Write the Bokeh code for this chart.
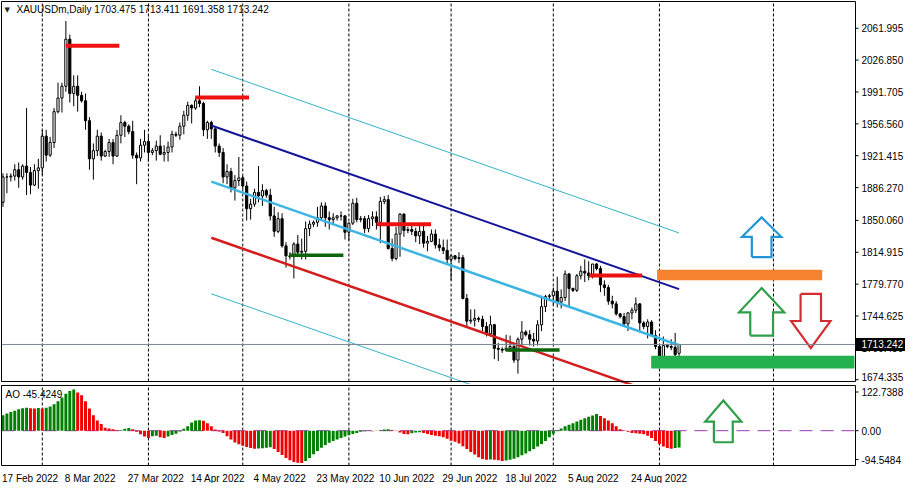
import pandas as pd
from bokeh.plotting import figure
from bokeh.layouts import column
from bokeh.models import ColumnDataSource, Range1d
from bokeh.core.properties import value
from bokeh.embed import file_html
from bokeh.resources import INLINE

FONT = value("Liberation Sans")

# ---------------- DATA ----------------
# daily bars (broker has short Sunday sessions, no Saturdays, closed on Good Friday)
all_days = pd.date_range("2022-02-17", "2022-09-07", freq="D")
bar_dates = [d for d in all_days if d.weekday() != 5 and d != pd.Timestamp("2022-04-15")]

bar_open = [
    1870, 1898,
    1898, 1899, 1906, 1898, 1910, 1903,
    1889, 1905, 1908, 1943, 1922, 1936,
    1970, 1985, 1998, 2050, 1990, 1998,
    1988, 1982, 1960, 1918, 1927, 1943,
    1921, 1926, 1936, 1921, 1944, 1958,
    1954, 1948, 1922, 1919, 1933, 1937,
    1925, 1927, 1932, 1923, 1925, 1931,
    1945, 1944, 1954, 1966, 1977,
    1974, 1982, 1979, 1950, 1958, 1951,
    1932, 1925, 1898, 1904, 1886, 1894,
    1897, 1888, 1863, 1868, 1881, 1877,
    1883, 1878, 1855, 1838, 1852, 1822,
    1811, 1810, 1824, 1815, 1816, 1841,
    1846, 1848, 1853, 1866, 1853, 1851,
    1853, 1855, 1855, 1837, 1847, 1869,
    1851, 1852, 1841, 1852, 1854, 1848,
    1871, 1873, 1819, 1808, 1835, 1857,
    1839, 1840, 1838, 1833, 1838, 1825,
    1827, 1835, 1823, 1820, 1817, 1807,
    1811, 1808, 1809, 1764, 1739, 1740,
    1742, 1741, 1733, 1725, 1735, 1709,
    1708, 1707, 1709, 1711, 1696, 1719,
    1727, 1724, 1719, 1717, 1735, 1755,
    1766, 1767, 1772, 1760, 1765, 1791,
    1775, 1773, 1789, 1794, 1792, 1789,
    1802, 1797, 1779, 1776, 1761, 1758,
    1747, 1744, 1736, 1748, 1751, 1758,
    1737, 1733, 1738, 1723, 1711, 1697,
    1712, 1711, 1710, 1703.475,
]
bar_high = [
    1902, 1902,
    1902, 1912, 1914, 1912, 1974, 1909,
    1912, 1918, 1950, 1950, 1942, 1974,
    2002, 2002, 2070, 2055, 2010, 2010,
    1992, 1990, 1964, 1935, 1950, 1947,
    1928, 1940, 1940, 1950, 1966, 1960,
    1956, 1960, 1925, 1940, 1950, 1944,
    1930, 1938, 1944, 1933, 1937, 1949,
    1948, 1958, 1971, 1981, 1978,
    1985, 1998, 1981, 1960, 1960, 1952,
    1935, 1930, 1912, 1908, 1900, 1920,
    1899, 1893, 1874, 1885, 1910, 1890,
    1885, 1885, 1865, 1859, 1858, 1826,
    1815, 1826, 1834, 1830, 1849, 1850,
    1850, 1865, 1870, 1870, 1860, 1858,
    1856, 1860, 1856, 1848, 1874, 1875,
    1855, 1855, 1856, 1860, 1860, 1876,
    1877, 1878, 1830, 1843, 1858, 1858,
    1843, 1847, 1842, 1847, 1845, 1833,
    1840, 1840, 1830, 1829, 1829, 1812,
    1812, 1815, 1812, 1769, 1752, 1752,
    1744, 1745, 1738, 1745, 1736, 1715,
    1710, 1724, 1723, 1714, 1721, 1739,
    1729, 1729, 1726, 1740, 1767, 1768,
    1769, 1776, 1788, 1774, 1795, 1792,
    1776, 1791, 1800, 1807, 1805, 1802,
    1803, 1800, 1784, 1779, 1767, 1761,
    1748, 1748, 1749, 1754, 1765, 1759,
    1739, 1741, 1740, 1729, 1712, 1722,
    1714, 1719, 1726, 1713.411,
]
bar_low = [
    1865, 1880,
    1893, 1894, 1886, 1895, 1878, 1879,
    1888, 1885, 1900, 1915, 1920, 1930,
    1968, 1969, 1992, 1980, 1976, 1970,
    1980, 1950, 1906, 1895, 1921, 1916,
    1920, 1920, 1912, 1920, 1935, 1942,
    1945, 1918, 1890, 1915, 1925, 1915,
    1922, 1916, 1922, 1915, 1915, 1925,
    1942, 1939, 1945, 1960, 1957,
    1972, 1975, 1943, 1940, 1940, 1925,
    1920, 1891, 1890, 1881, 1872, 1888,
    1885, 1850, 1851, 1865, 1870, 1866,
    1875, 1850, 1832, 1836, 1820, 1798,
    1807, 1786, 1810, 1807, 1807, 1833,
    1843, 1843, 1850, 1843, 1840, 1845,
    1850, 1850, 1829, 1828, 1845, 1848,
    1848, 1836, 1837, 1844, 1840, 1825,
    1868, 1818, 1805, 1806, 1810, 1832,
    1836, 1834, 1826, 1824, 1820, 1816,
    1826, 1819, 1816, 1813, 1802, 1784,
    1806, 1803, 1763, 1732, 1736, 1733,
    1738, 1728, 1722, 1722, 1697, 1695,
    1704, 1706, 1705, 1693, 1681, 1712,
    1722, 1712, 1711, 1712, 1728, 1749,
    1763, 1757, 1754, 1753, 1761, 1754,
    1771, 1771, 1785, 1782, 1784, 1786,
    1795, 1771, 1767, 1757, 1753, 1745,
    1742, 1733, 1728, 1741, 1748, 1727,
    1730, 1720, 1722, 1708, 1688, 1695,
    1709, 1707, 1700, 1691.358,
]
bar_close = [
    1898, 1898,
    1899, 1906, 1898, 1910, 1903, 1889,
    1905, 1908, 1943, 1922, 1936, 1970,
    1985, 1998, 2050, 1990, 1998, 1988,
    1982, 1960, 1918, 1927, 1943, 1921,
    1926, 1936, 1921, 1944, 1958, 1954,
    1948, 1922, 1919, 1933, 1937, 1925,
    1927, 1932, 1923, 1925, 1931, 1945,
    1944, 1954, 1966, 1977, 1974,
    1982, 1979, 1950, 1958, 1951, 1932,
    1925, 1898, 1904, 1886, 1894, 1897,
    1888, 1863, 1868, 1881, 1877, 1883,
    1878, 1855, 1838, 1852, 1822, 1811,
    1810, 1824, 1815, 1816, 1841, 1846,
    1848, 1853, 1866, 1853, 1851, 1853,
    1855, 1855, 1837, 1847, 1869, 1851,
    1852, 1841, 1852, 1854, 1848, 1871,
    1873, 1819, 1808, 1835, 1857, 1839,
    1840, 1838, 1833, 1838, 1825, 1827,
    1835, 1823, 1820, 1817, 1807, 1811,
    1808, 1809, 1764, 1739, 1740, 1742,
    1741, 1733, 1725, 1735, 1709, 1708,
    1707, 1709, 1711, 1696, 1719, 1727,
    1724, 1719, 1717, 1735, 1755, 1766,
    1767, 1772, 1760, 1765, 1791, 1775,
    1773, 1789, 1794, 1792, 1789, 1802,
    1797, 1779, 1776, 1761, 1758, 1747,
    1744, 1736, 1748, 1751, 1758, 1737,
    1733, 1738, 1723, 1711, 1697, 1712,
    1711, 1710, 1702, 1713.242,
]

# Awesome Oscillator histogram values
ao_values = [
    42, 47, 51, 54, 58, 61, 62, 61, 60, 61.5,
    60.5, 62, 66, 72, 80, 90, 100, 108, 112, 104,
    96, 80, 60, 42, 28, 18, 8, 6, 4, 1,
    2, 5, 7, 4, -3, -10, -16, -20, -15, -14,
    -18, -20, -16, -12, -8, -2, 5, 12, 22, 28,
    28.5, 27, 20, 12, 3, -2, -6, -15, -24, -32,
    -37, -41, -44, -47, -49, -48.5, -48, -46, -45, -50,
    -58, -66, -74, -80, -85, -87, -88, -82, -74, -64,
    -55, -46, -39, -33, -28, -24, -20, -16, -12, -9,
    -6, -3, -1.5, -1, -1.5, -1, 1, 3, 4, 2,
    -1, -5, -9, -10, -7, -5, -4, -6, -9, -12,
    -14, -15, -18, -22, -27, -30, -35, -42, -50, -58,
    -65, -72, -77, -79, -78, -79, -80, -82, -81, -79,
    -76, -72, -67, -62, -56, -50, -43, -36, -28, -18,
    -8, 2, 6, 12, 16, 20, 25, 30, 34, 38,
    41, 45, 40, 34, 28, 20, 12, 4, 1, -3,
    -6, -7, -8, -10, -14, -20, -28, -36, -43, -47,
    -49, -47, -45.4249,
]

price_ticks = [2061.995, 2026.850, 1991.705, 1956.560, 1921.415, 1886.270,
               1850.060, 1814.915, 1779.770, 1744.625, 1709.480, 1674.335]
ao_scale_labels = ["122.7388", "0.00", "-94.5484"]
ao_min, ao_max = -94.5484, 122.7388
date_label_step = 16
future_month_bar = [196]          # 1 Oct (future area)

# regression channel (bar index, price at start and end)
channel_start_bar, channel_end_bar = 53, 172
channel_start_price = [2016.7, 1954.8, 1892.9, 1831.0, 1769.1]
channel_end_price = [1836.2, 1774.3, 1712.4, 1650.5, 1588.6]

# short horizontal levels
level_from = [16.0, 48.9, 95.1, 149.1, 72.9, 127.9]
level_to = [29.6, 62.6, 108.9, 162.6, 86.6, 141.6]
level_price = [2042.7, 1985.5, 1845.9, 1789.3, 1811.7, 1707.1]
level_kind = ["res", "res", "res", "res", "sup", "sup"]

# zones
zone_left = [166.4, 164.9]
zone_right = [208.4, 216.6]
zone_top = [1795.7, 1700.7]
zone_bottom = [1784.0, 1686.8]

# arrows in price panel
arrow_x = [193.0, 193.0, 205.5]
arrow_tip = [1853.4, 1775.4, 1709.2]
arrow_neck = [1832.0, 1748.7, 1739.1]
arrow_base = [1809.6, 1723.1, 1769.0]
arrow_head = [5.0, 5.75, 5.0]
arrow_stem = [2.5, 2.9, 2.6]
# arrow in AO panel
ao_arrow = dict(x=183.25, tip=81.9, neck=24.7, base=-31.4, head=4.6, stem=2.4)

# ---------------- STYLE / LAYOUT ----------------
TOTAL_W = 905
CHART_W = 854                   # width of the chart area (left of the price scale)
X0, X1 = -0.375, 216.875        # chart area in bar units
PY0, PY1 = 1672.4, 2091.5       # chart area in price units
MAIN_H = 380
AO_H = 80
GAP = 3
LAB_H = 483 - (MAIN_H + 1 + GAP) - (AO_H + 2)

k = CHART_W / (X1 - X0)          # pixels per bar
XL = X0 - 1.0 / k                # 1px room so the left frame line is fully visible
XR = XL + TOTAL_W / k

n = len(bar_close)
idx = list(range(n))
month_bars = [i for i in range(1, n) if bar_dates[i].month != bar_dates[i - 1].month] + future_month_bar


def make_fig(fh, y0, y1):
    f = figure(frame_width=TOTAL_W, frame_height=fh, x_range=Range1d(XL, XR), y_range=Range1d(y0, y1),
               output_backend="svg", toolbar_location=None,
               x_axis_location=None, y_axis_location=None,
               min_border_left=0, min_border_right=0, min_border_top=0, min_border_bottom=0)
    f.grid.visible = False
    f.background_fill_color = "white"
    f.border_fill_color = "white"
    f.outline_line_color = None
    return f


def scale_labels(f, ys, texts, offsets):
    f.segment(x0=[X1] * len(ys), x1=[X1 + 3 / k] * len(ys), y0=ys, y1=ys, line_color="black", line_width=1)
    f.text(x=[X1] * len(ys), y=ys, text=texts, x_offset=6, y_offset=offsets,
           text_align="left", text_baseline="middle",
           text_font=FONT, text_font_size="10px", text_color="black")


# ---------------- PRICE PANEL ----------------
ppx = (PY1 - PY0) / MAIN_H
p = make_fig(MAIN_H + 1 + GAP, PY0 - GAP * ppx, PY1 + 1 * ppx)

p.segment(x0=month_bars, x1=month_bars, y0=[PY0] * len(month_bars), y1=[PY1] * len(month_bars),
          line_color="black", line_width=1, line_dash="3 2")

src = ColumnDataSource(dict(
    x=idx, o=bar_open, h=bar_high, l=bar_low, c=bar_close,
    top=[max(a, b) for a, b in zip(bar_open, bar_close)],
    bot=[min(a, b) for a, b in zip(bar_open, bar_close)],
    fill=["white" if c >= o else "black" for o, c in zip(bar_open, bar_close)],
))
p.segment(x0="x", y0="l", x1="x", y1="h", source=src, line_color="black", line_width=1)
p.vbar(x="x", width=0.55, top="top", bottom="bot", source=src,
       fill_color="fill", line_color="black", line_width=1)

ch_colors = ["#31B3C9", "#14149A", "#3DB5E4", "#D21E1E", "#31B3C9"]
ch_widths = [1, 2, 2.5, 2.5, 1]
for s, e, col, w in zip(channel_start_price, channel_end_price, ch_colors, ch_widths):
    p.line([channel_start_bar, channel_end_bar], [s, e], line_color=col, line_width=w)

lv_col = {"res": "#EE1111", "sup": "#0B660B"}
lv_w = {"res": 4, "sup": 3.5}
for a, b, y, kd in zip(level_from, level_to, level_price, level_kind):
    p.line([a, b], [y, y], line_color=lv_col[kd], line_width=lv_w[kd], line_cap="butt")

p.quad(left=zone_left, right=zone_right, top=zone_top, bottom=zone_bottom,
       fill_color=["#F5822E", "#22B14C"], line_color=None)


def arrow_poly(x, tip, neck, base, head, stem):
    xs = [x - stem, x - stem, x - head, x, x + head, x + stem, x + stem, x - stem]
    ys = [base, neck, neck, tip, neck, neck, base, base]
    return xs, ys


arrow_colors = ["#2196D6", "#2E9F48", "#D42C30"]
for ax_, t, nk, b, hd, st, col in zip(arrow_x, arrow_tip, arrow_neck, arrow_base,
                                      arrow_head, arrow_stem, arrow_colors):
    xs, ys = arrow_poly(ax_, t, nk, b, hd, st)
    p.line(xs, ys, line_color=col, line_width=2.2, line_join="miter")

# bid line
p.line([X0, X1], [bar_close[-1]] * 2, line_color="#7A8794", line_width=1)

# frame of the chart area
p.quad(left=[X0], right=[X1], bottom=[PY0], top=[PY1], fill_color=None, line_color="black", line_width=1)

# price scale (lowest label lifted a little so it stays inside the canvas)
price_offsets = [0] * (len(price_ticks) - 1) + [-3]
scale_labels(p, price_ticks, ["%.3f" % t for t in price_ticks], price_offsets)
p.rect(x=[X1 + 26 / k], y=[bar_close[-1]], width=52, height=13, width_units="screen", height_units="screen",
       fill_color="black", line_color=None)
p.text(x=[X1], y=[bar_close[-1]], text=["%.3f" % bar_close[-1]], x_offset=6, text_align="left",
       text_baseline="middle", text_font=FONT, text_font_size="10px", text_color="white")

# header
p.text(x=[X0], y=[PY1], text=["\u25BC"], x_offset=3, y_offset=8, text_baseline="middle",
       text_font=value("DejaVu Sans"), text_font_size="7px", text_color="#222222")
p.text(x=[X0], y=[PY1], x_offset=15, y_offset=8,
       text=["XAUUSDm,Daily  %.3f %.3f %.3f %.3f" % (bar_open[-1], bar_high[-1], bar_low[-1], bar_close[-1])],
       text_font=FONT, text_font_size="10px", text_color="black", text_baseline="middle")

# ---------------- AO PANEL ----------------
apx = (ao_max - ao_min) / AO_H
ao = make_fig(AO_H + 2, ao_min - apx, ao_max + apx)
ao.segment(x0=month_bars, x1=month_bars, y0=[ao_min] * len(month_bars), y1=[ao_max] * len(month_bars),
           line_color="black", line_width=1, line_dash="3 2")
ao.line([X0, X1], [0, 0], line_color="#9B3DB0", line_width=1, line_dash="13 8")
ao_cols = ["#008000" if (i == 0 or ao_values[i] > ao_values[i - 1]) else "#F00000" for i in idx]
ao.vbar(x=idx, top=ao_values, bottom=0, width=0.75, fill_color=ao_cols, line_color=None)
axs, ays = arrow_poly(ao_arrow["x"], ao_arrow["tip"], ao_arrow["neck"], ao_arrow["base"],
                      ao_arrow["head"], ao_arrow["stem"])
ao.line(axs, ays, line_color="#2E9F48", line_width=2.2, line_join="miter")
ao.quad(left=[X0], right=[X1], bottom=[ao_min], top=[ao_max], fill_color=None, line_color="black", line_width=1)
ao.text(x=[X0], y=[ao_max], x_offset=4, y_offset=9, text=["AO %.4f" % ao_values[-1]],
        text_font=FONT, text_font_size="10px", text_color="black", text_baseline="middle")
ao_label_pos = [ao_max - 6.5 * apx, 0, ao_min + 6 * apx]
scale_labels(ao, ao_label_pos, ao_scale_labels, [0, 0, 0])

# ---------------- DATE LABELS ----------------
lab = make_fig(LAB_H, 0, 1)
lab_idx = list(range(0, n, date_label_step))
lab_txt = ["%d %s" % (bar_dates[i].day, bar_dates[i].strftime("%b %Y")) for i in lab_idx]
lab.text(x=lab_idx, y=[0.32] * len(lab_idx), text=lab_txt, text_align="left", text_baseline="middle",
         text_font=FONT, text_font_size="10px", text_color="black", x_offset=-1)

layout = column(p, ao, lab, spacing=0)
open("out.html", "w").write(file_html(layout, INLINE))
